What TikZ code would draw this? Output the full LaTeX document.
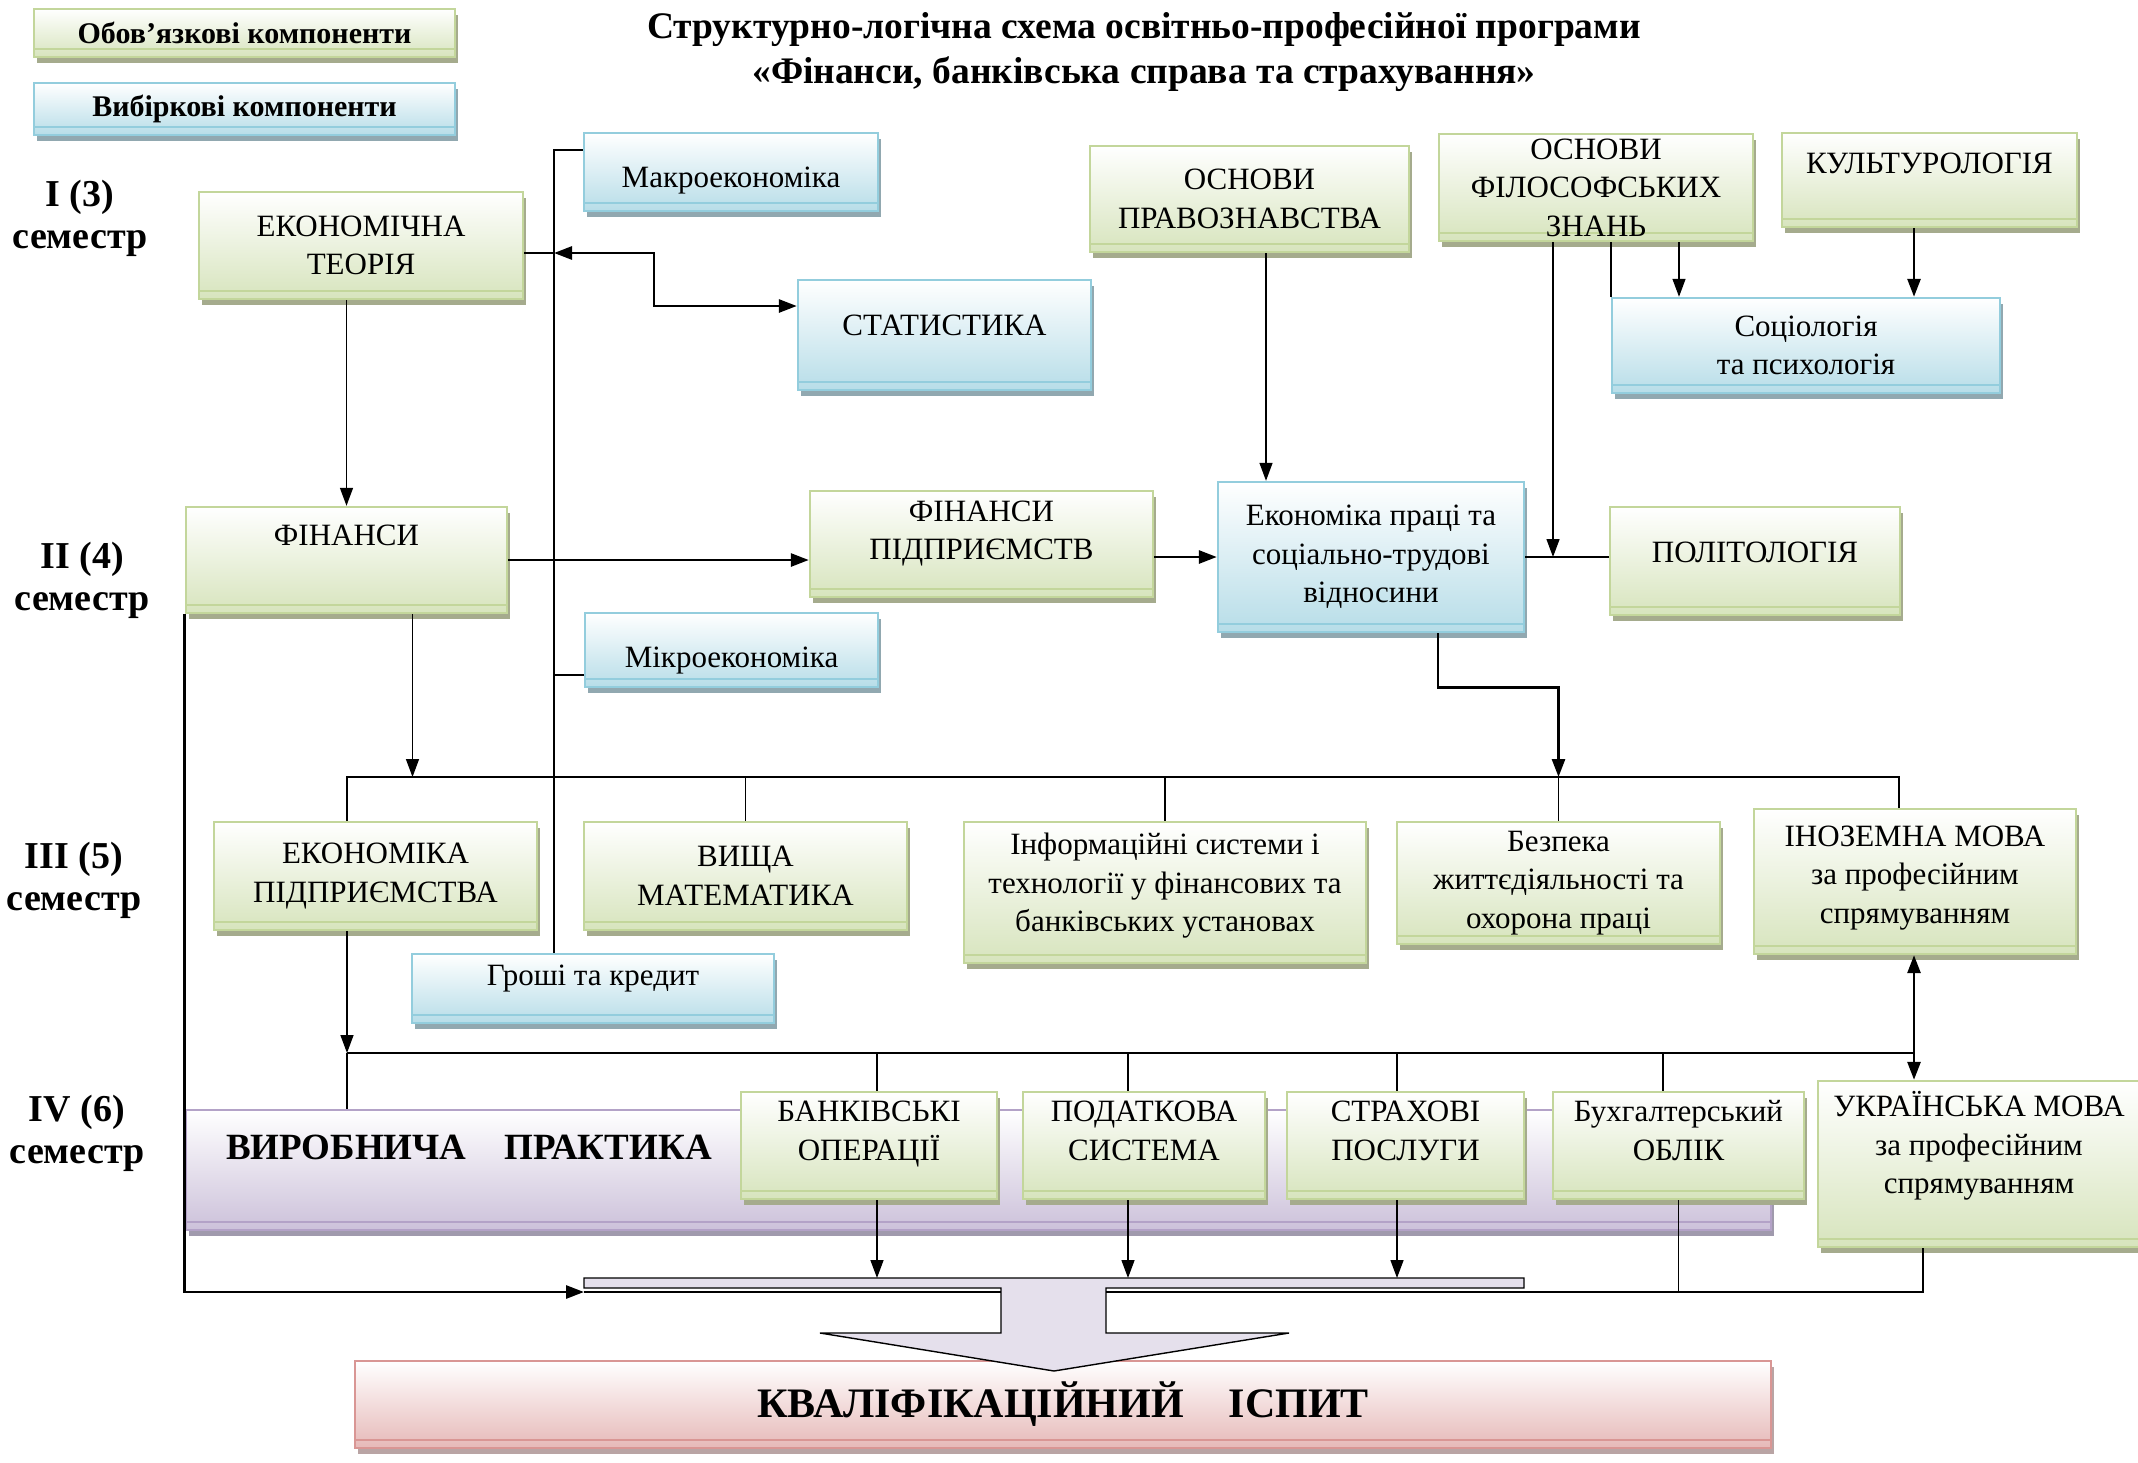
\documentclass[tikz,border=0pt]{standalone}
\usepackage{fontspec}
\setmainfont{Liberation Serif}
\usetikzlibrary{arrows.meta,shadows}

\definecolor{gfill}{HTML}{D7E4BD}
\definecolor{gline}{HTML}{C3D69B}
\definecolor{gshad}{HTML}{A5AB8D}
\definecolor{bfill}{HTML}{B7DDE8}
\definecolor{bline}{HTML}{93CDDD}
\definecolor{bshad}{HTML}{91A8B0}
\definecolor{pfill}{HTML}{CCC1DA}
\definecolor{pline}{HTML}{B3A2C7}
\definecolor{pshad}{HTML}{A09AAD}
\definecolor{rfill}{HTML}{E6B9B8}
\definecolor{rline}{HTML}{D99694}
\definecolor{rshad}{HTML}{B9A4A4}
\definecolor{barfill}{HTML}{E5E0EC}

\newcommand\boxfont{\fontsize{31}{38.5}\selectfont}
\newcommand\legfont{\fontsize{30}{36}\selectfont\bfseries}
\newcommand\titlefont{\fontsize{37.5}{45}\selectfont\bfseries}
\newcommand\semfont{\fontsize{38}{42}\selectfont\bfseries}
\newcommand\praktfont{\fontsize{37}{42}\selectfont\bfseries}
\newcommand\ispytfont{\fontsize{42}{48}\selectfont\bfseries}
\newcommand\pushup[1]{\rule[-#1pt]{0pt}{#1pt}}
\newcommand\pushdn[1]{\rule{0pt}{#1pt}}

\begin{document}
\begin{tikzpicture}[x=1pt, y=-1pt,
  >={Triangle[length=18pt,width=13pt]},
  card/.style n args={3}{draw=#2, line width=2.4pt, top color=white, bottom color=#1,
    drop shadow={shadow xshift=3pt, shadow yshift=-6pt, fill=#3, opacity=1},
    path picture={\draw[#2, line width=2pt]
      ([yshift=8pt]path picture bounding box.south west) --
      ([yshift=8pt]path picture bounding box.south east);},
    align=center, inner sep=4pt, font=\boxfont},
  must/.style={card={gfill}{gline}{gshad}},
  elect/.style={card={bfill}{bline}{bshad}},
  band/.style={card={pfill}{pline}{pshad}},
  exam/.style={card={rfill}{rline}{rshad}},
  wh/.style 2 args={minimum width=#1pt, minimum height=#2pt},
  sem/.style={font=\semfont, align=center},
  thinln/.style={line width=1.4pt},
  thickln/.style={line width=2.8pt}]
  \path[use as bounding box, fill=white] (0,0) rectangle (2138,1462);

  \node[must, wh={421}{48}, font=\legfont] (legob) at (244.5,33) {Обов’язкові компоненти};
  \node[elect, wh={421}{52}, font=\legfont] (legvyb) at (244.5,109) {Вибіркові компоненти};
  \node[font=\titlefont, align=center] (title) at (1144,52)
    {Структурно-логічна схема освітньо-професійної програми\\«Фінанси, банківська справа та страхування»};

  \node[sem] (sem1) at (80,218) {I (3)\\семестр};
  \node[sem] (sem2) at (82,580) {II (4)\\семестр};
  \node[sem] (sem3) at (74,880) {III (5)\\семестр};
  \node[sem] (sem4) at (77,1133) {IV (6)\\семестр};

  % I (3)
  \node[must, wh={324}{107}] (et) at (361,245.5) {ЕКОНОМІЧНА\\ТЕОРІЯ};
  \node[elect, wh={294}{78}] (macro) at (731,172) {\pushdn{38}Макроекономіка};
  \node[elect, wh={293}{110}] (stat) at (944.5,335) {СТАТИСТИКА\pushup{20}};
  \node[must, wh={319}{106}] (pravo) at (1249.5,199) {ОСНОВИ\\ПРАВОЗНАВСТВА};
  \node[must, wh={314}{107}] (filos) at (1596,187.5) {ОСНОВИ\\ФІЛОСОФСЬКИХ\\ЗНАНЬ};
  \node[must, wh={295}{94}] (kult) at (1929.5,180) {КУЛЬТУРОЛОГІЯ\pushup{34}};
  \node[elect, wh={388}{95}] (soc) at (1806,345.5) {Соціологія\\та психологія};

  % II (4)
  \node[must, wh={321}{106}] (fin) at (346.5,560) {ФІНАНСИ\pushup{50}};
  \node[must, wh={343}{106}] (finp) at (981.5,544) {ФІНАНСИ\\ПІДПРИЄМСТВ\pushup{28}};
  \node[elect, wh={306}{150}] (ekpr) at (1371,557) {Економіка праці та\\соціально-трудові\\відносини};
  \node[must, wh={290}{108}] (polit) at (1755,561) {ПОЛІТОЛОГІЯ\pushup{18}};
  \node[elect, wh={293}{74}] (micro) at (731.5,650) {\pushdn{42}Мікроекономіка};

  % III (5)
  \node[must, wh={323}{108}] (ekp) at (375.5,876) {ЕКОНОМІКА\\ПІДПРИЄМСТВА};
  \node[must, wh={323}{108}] (math) at (745.5,876) {ВИЩА\\МАТЕМАТИКА};
  \node[must, wh={402}{141}] (inf) at (1165,892.5)
    {Інформаційні системи і\\технології у фінансових та\\банківських установах\pushup{20}};
  \node[must, wh={323}{122}] (bezp) at (1558.5,883) {Безпека\\життєдіяльності та\\охорона праці};
  \node[must, wh={322}{145}] (inoz) at (1915,881.5) {ІНОЗЕМНА МОВА\\за професійним\\спрямуванням\pushup{14}};
  \node[elect, wh={362}{69}] (groshi) at (593,988.5) {Гроші та кредит\pushup{26}};

  % IV (6)
  \node[band, wh={1585}{120}, text width=1505pt, inner xsep=40pt, align=left, font=\praktfont]
    (prakt) at (978.5,1170) {ВИРОБНИЧА\hspace{38pt}ПРАКТИКА\pushup{46}};
  \node[must, wh={256}{107}] (bank) at (869,1145.5) {БАНКІВСЬКІ\\ОПЕРАЦІЇ\pushup{30}};
  \node[must, wh={242}{107}] (podat) at (1144,1145.5) {ПОДАТКОВА\\СИСТЕМА\pushup{30}};
  \node[must, wh={237}{107}] (strakh) at (1405.5,1145.5) {СТРАХОВІ\\ПОСЛУГИ\pushup{30}};
  \node[must, wh={251}{107}] (bukh) at (1678.5,1145.5) {Бухгалтерський\\ОБЛІК\pushup{30}};
  \node[must, wh={322}{166}] (ukr) at (1979,1164) {УКРАЇНСЬКА МОВА\\за професійним\\спрямуванням\pushup{43}};

  \node[exam, wh={1416}{87}, font=\ispytfont] (ispyt) at (1063,1404.5) {КВАЛІФІКАЦІЙНИЙ\hspace{45pt}ІСПИТ};

  % trunk on the left
  \coordinate (tt) at (554,150);
  \coordinate (tj) at (554,253);
  \draw[thinln] (tt |- groshi.north) -- (tt) -- (tt -| macro.west);
  \draw[thinln] ([yshift=-25pt]micro.west) -- ([yshift=-25pt]micro.west -| tt);
  \draw[thinln] (et.east |- tj) -- (tj);
  \draw[thickln, <->] (tj) -- (654,253) |- ([yshift=29pt]stat.west);
  \draw[thinln, ->] (fin.north |- et.south) -- (fin.north);

  % II (4) row
  \draw[thickln, ->] (fin.east) -- (fin.east -| finp.west);
  \draw[thickln, ->] (finp.east |- ekpr.west) -- (ekpr.west);
  \draw[thickln] (ekpr.east) -- (ekpr.east -| polit.west);

  \coordinate (fa) at (1553,0);
  \coordinate (fb) at (1611,0);
  \coordinate (fc) at (1679,0);
  \coordinate (ka) at (1914,0);
  \coordinate (pa) at (1266,0);
  \draw[thinln, ->] (filos.south -| fa) -- (fa |- ekpr.east);
  \draw[thinln] (filos.south -| fb) -- (fb |- soc.north);
  \draw[thinln, ->] (filos.south -| fc) -- (fc |- soc.north);
  \draw[thickln, ->] (kult.south -| ka) -- (ka |- soc.north);
  \draw[thinln, ->] (pravo.south -| pa) -- (pa |- ekpr.north);

  % III (5) bus
  \coordinate (b3l) at (347,777);
  \coordinate (b3r) at (1899,777);
  \draw[thickln] (b3l |- ekp.north) -- (b3l) -- (b3r) -- (b3r |- inoz.north);
  \draw[thinln] (math.north) -- (math.north |- b3l);
  \draw[thinln] (inf.north) -- (inf.north |- b3l);
  \draw[thinln] (bezp.north) -- (bezp.north |- b3l);
  \draw[thinln, ->] ([xshift=66pt]fin.south) -- ([xshift=66pt]fin.south |- b3l);
  \draw[thickln, ->] ([xshift=67pt]ekpr.south) -- ++(0,54) -| (bezp.north |- b3l);

  % IV (6) bus
  \coordinate (b4l) at (347,1053);
  \coordinate (b4r) at (1914,1053);
  \draw[thinln, ->] (b4l |- ekp.south) -- (b4l);
  \draw[thickln] (b4l) -- (b4r);
  \draw[thinln] (b4l) -- (b4l |- prakt.north);
  \draw[thinln] ([xshift=8pt]bank.north) -- ([xshift=8pt]bank.north |- b4l);
  \draw[thinln] ([xshift=-16pt]podat.north) -- ([xshift=-16pt]podat.north |- b4l);
  \draw[thinln] ([xshift=-8.5pt]strakh.north) -- ([xshift=-8.5pt]strakh.north |- b4l);
  \draw[thinln] ([xshift=-15.5pt]bukh.north) -- ([xshift=-15.5pt]bukh.north |- b4l);
  \draw[thickln, <->] (inoz.south -| b4r) -- (b4r |- ukr.north);

  % bar and big arrow to the exam
  \coordinate (btop) at (0,1278);
  \coordinate (bl) at (584,1292);
  \coordinate (sl) at (1001,1292);
  \coordinate (sr) at (1106,1292);
  \draw[thinln, fill=barfill] (584,1278) -- (1524,1278) -- (1524,1288) -- (1106,1288) -- (1106,1333)
    -- (1289,1333) -- (1054,1371) -- (820,1333) -- (1001,1333) -- (1001,1288) -- (584,1288) -- cycle;
  \draw[thinln, ->] ([xshift=8pt]bank.south) -- ([xshift=8pt]bank.south |- btop);
  \draw[thinln, ->] ([xshift=-16pt]podat.south) -- ([xshift=-16pt]podat.south |- btop);
  \draw[thinln, ->] ([xshift=-8.5pt]strakh.south) -- ([xshift=-8.5pt]strakh.south |- btop);
  \draw[thinln] (bukh.south) -- (bukh.south |- bl);
  \draw[thinln] ([xshift=-56pt]ukr.south) |- (sr);
  \draw[thickln] (bl) -- (sl);
  \draw[thickln, ->] (fin.south west) |- (bl);
\end{tikzpicture}
\end{document}
